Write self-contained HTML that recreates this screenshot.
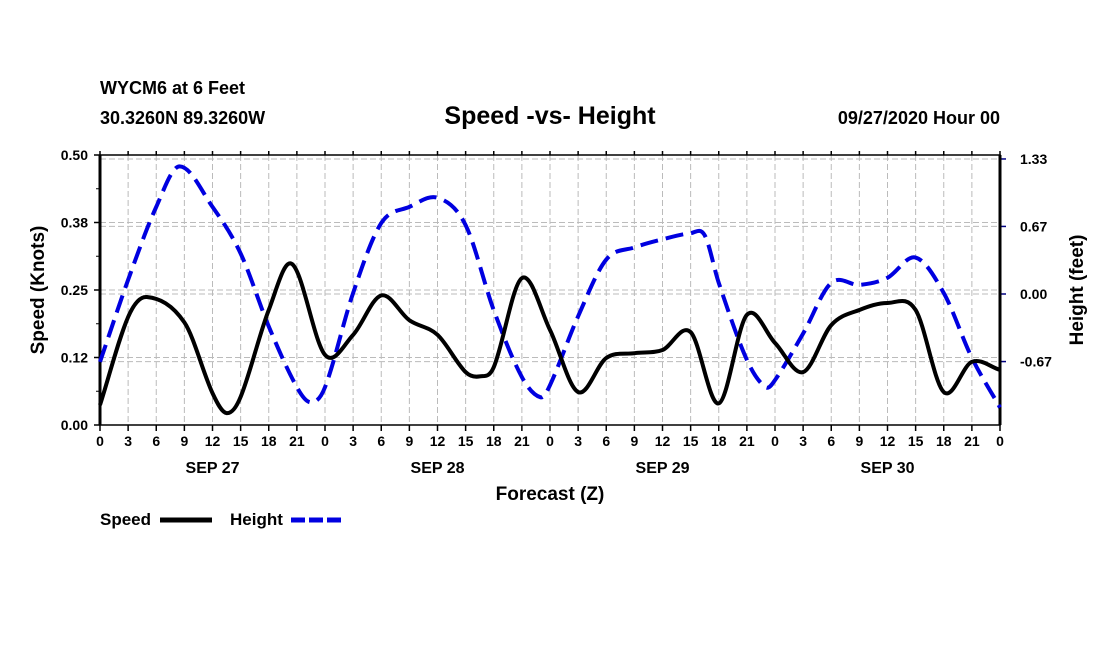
<!DOCTYPE html>
<html><head><meta charset="utf-8"><style>
body{margin:0;background:#fff;font-family:"Liberation Sans",sans-serif;}
</style></head><body>
<svg id="c" width="1100" height="650" xmlns="http://www.w3.org/2000/svg" style="font-family:'Liberation Sans',sans-serif;font-weight:bold">
<text x="100" y="94" font-size="18">WYCM6 at 6 Feet</text>
<text x="100" y="124" font-size="18">30.3260N 89.3260W</text>
<text x="550" y="124" font-size="25" text-anchor="middle">Speed -vs- Height</text>
<text x="1000" y="124" font-size="18" text-anchor="end">09/27/2020 Hour 00</text>
<g id="grid"></g><g id="axes"></g><g id="series"></g>
<text x="550" y="500" font-size="19" text-anchor="middle">Forecast (Z)</text>
<text transform="translate(44,290) rotate(-90)" font-size="19" text-anchor="middle">Speed (Knots)</text>
<text transform="translate(1083,290) rotate(-90)" font-size="19" text-anchor="middle">Height (feet)</text>
<g>
<text x="100" y="525" font-size="17">Speed</text>
<line x1="160" y1="520" x2="212" y2="520" stroke="#000" stroke-width="5"/>
<text x="230" y="525" font-size="17">Height</text>
<line x1="291" y1="520" x2="343" y2="520" stroke="#0000e0" stroke-width="5" stroke-dasharray="14,4"/>
</g>
</svg>
<script>
const speedHours=[0,3,5,9,12,13.5,15,18,20.5,24,27,30,33,36,39,40.5,42,45,48,51,54,57,60,63,66,69,72,75,78,81,84,87,90,93,96];
const speed=[0.037,0.2,0.237,0.19,0.059,0.022,0.052,0.213,0.298,0.13,0.167,0.24,0.194,0.167,0.098,0.09,0.107,0.272,0.176,0.061,0.124,0.133,0.139,0.172,0.04,0.204,0.152,0.098,0.185,0.213,0.226,0.213,0.061,0.117,0.102];
const heightHours=[0,3,6,8.5,12,15,18,21,22.5,24,27,30,33,36,39,42,45,47,48,51,54,57,60,63,64.5,66,69,71,72,75,78,81,84,87,90,93,96];
const height=[-0.67,0.14,0.86,1.26,0.86,0.4,-0.32,-0.92,-1.07,-0.92,0.01,0.7,0.86,0.95,0.68,-0.16,-0.82,-1.02,-0.9,-0.22,0.34,0.46,0.54,0.6,0.58,0.11,-0.65,-0.92,-0.85,-0.39,0.11,0.09,0.16,0.36,0.01,-0.63,-1.12];
const leftTicks=[0,0.125,0.25,0.375,0.5];
const leftLabels=["0.00","0.12","0.25","0.38","0.50"];
const rightTicks=[-0.667,0,0.667,1.333];
const rightLabels=["-0.67","0.00","0.67","1.33"];
const days=["SEP 27","SEP 28","SEP 29","SEP 30"];
const L=100,R=1000,T=155,B=425;
const X=h=>L+(R-L)*h/96;
const YL=v=>B-(B-T)*v/0.5;
const YR=v=>294-v*101.3;
const NS="http://www.w3.org/2000/svg";
function mk(tag,attrs,parent,txt){const e=document.createElementNS(NS,tag);for(const k in attrs)e.setAttribute(k,attrs[k]);if(txt!==undefined)e.textContent=txt;document.getElementById(parent).appendChild(e);return e;}
for(let h=0;h<=96;h+=3){
 const x=X(h);
 if(h>0&&h<96){const g=mk('line',{x1:x,y1:T,x2:x,y2:B,stroke:'#bbb','stroke-dasharray':'6,3'},'grid');
 
 }
 mk('line',{x1:x,y1:B,x2:x,y2:B+6,stroke:'#000','stroke-width':1.5},'axes');
 mk('line',{x1:x,y1:T,x2:x,y2:T-4,stroke:'#000','stroke-width':1.5},'axes');
 const t=mk('text',{x:x,y:B+21,'font-size':14,'text-anchor':'middle'},'axes',String(h%24));
 
 
}
days.forEach((d,i)=>{const t=mk('text',{x:X(i*24+12),y:B+48,'font-size':16,'text-anchor':'middle'},'axes',d);
 
 });
leftTicks.forEach((v,i)=>{const y=YL(v);
 if(v>0){const g=mk('line',{x1:L,y1:y,x2:R,y2:y,stroke:'#bbb','stroke-dasharray':'6,3'},'grid');
 
 }
 mk('line',{x1:L-6,y1:y,x2:L,y2:y,stroke:'#000','stroke-width':1.5},'axes');
 const t=mk('text',{x:L-12,y:y+5,'font-size':14,'text-anchor':'end'},'axes',leftLabels[i]);
 
 });
for(let v=0.0625;v<0.5;v+=0.125){mk('line',{x1:L-4,y1:YL(v),x2:L,y2:YL(v),stroke:'#000'},'axes');}
rightTicks.forEach((v,i)=>{const y=YR(v);
 const g=mk('line',{x1:L,y1:y,x2:R,y2:y,stroke:'#bbb','stroke-dasharray':'6,3'},'grid');
 
 
 mk('line',{x1:R,y1:y,x2:R+6,y2:y,stroke:'#000080','stroke-width':1.5},'axes');
 const t=mk('text',{x:R+20,y:y+5,'font-size':14},'axes',rightLabels[i]);
 
 });
const fr=mk('rect',{x:L,y:T,width:R-L,height:B-T,fill:'none',stroke:'#000','stroke-width':1.5},'axes');


mk('line',{x1:L,y1:T,x2:L,y2:B,stroke:'#000','stroke-width':3},'axes');
mk('line',{x1:R,y1:T,x2:R,y2:B,stroke:'#000','stroke-width':3},'axes');
function smooth(xs,ys){let d=`M${xs[0]},${ys[0]}`;const n=xs.length;
 for(let i=0;i<n-1;i++){const x0=xs[Math.max(i-1,0)],y0=ys[Math.max(i-1,0)],x3=xs[Math.min(i+2,n-1)],y3=ys[Math.min(i+2,n-1)];
 const h=xs[i+1]-xs[i];
 const m1=(ys[i+1]-y0)/((xs[i+1]-x0)||1), m2=(y3-ys[i])/((x3-xs[i])||1);
 d+=` C${xs[i]+h/3},${ys[i]+m1*h/3} ${xs[i+1]-h/3},${ys[i+1]-m2*h/3} ${xs[i+1]},${ys[i+1]}`;}return d;}
const hp=mk('path',{d:smooth(heightHours.map(X),height.map(YR)),fill:'none',stroke:'#0000e0','stroke-width':4,'stroke-dasharray':'18,8'},'series');


const sp=mk('path',{d:smooth(speedHours.map(X),speed.map(YL)),fill:'none',stroke:'#000','stroke-width':4},'series');


</script>
</body></html>
